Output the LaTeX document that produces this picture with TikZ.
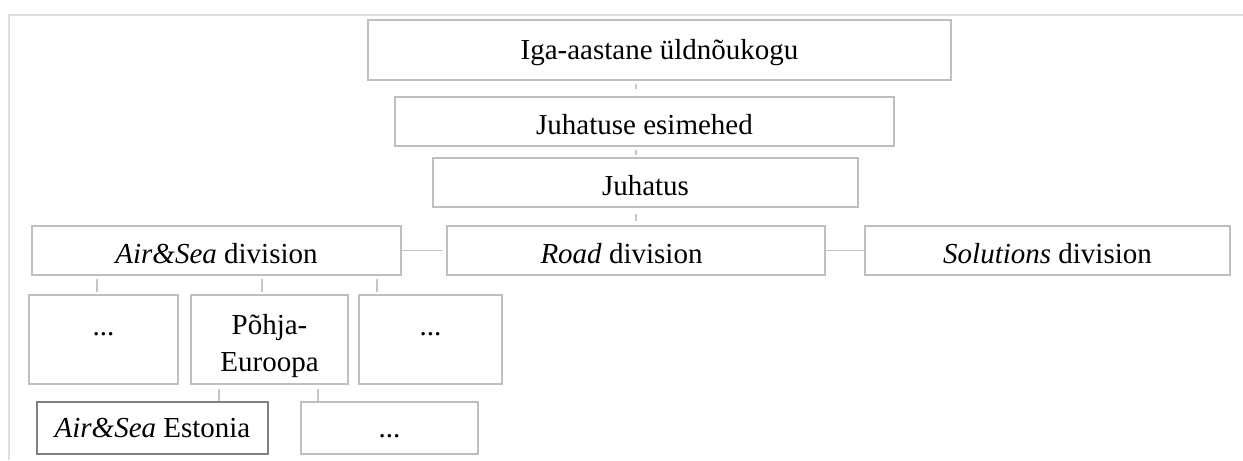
\documentclass[tikz,border=0pt]{standalone}
\usepackage{fontspec}
\setmainfont{Liberation Serif}
\usetikzlibrary{calc}
\tikzset{
  orglink/.style={draw=gray!45, line width=0.6pt},
  orgnode/.style={draw=gray!50, line width=0.85pt, inner sep=0pt,
    text height=0.44cm, text depth=0.08cm},
  orglow/.style={text height=0.55cm, text depth=0.03cm},
}

\begin{document}
\begin{tikzpicture}[
  font=\fontsize{16.5pt}{20.5pt}\selectfont,
  tall/.style={orgnode, align=center, minimum height=1.78cm,
    text height=0.44cm, text depth=0.62cm},
  mine/.style={orgnode, draw=gray, line width=1.2pt},
]
  \useasboundingbox (0,0) rectangle (24.86,-9.20);
  \draw[draw=gray!25, line width=0.6pt] (0.18,-9.20) |- (24.86,-0.30);

  % top of the chart
  \node[orgnode, minimum width=11.66cm, minimum height=1.20cm] (gm) at (13.19,-1.00) {Iga-aastane üldnõukogu};
  \node[orgnode, orglow, minimum width=9.98cm, minimum height=0.98cm] (chair) at (12.89,-2.43) {Juhatuse esimehed};
  \node[orgnode, orglow, minimum width=8.50cm, minimum height=0.98cm] (board) at (12.91,-3.65) {Juhatus};

  % divisions
  \node[orgnode, orglow, minimum width=7.38cm, minimum height=0.98cm] (as) at (4.33,-5.01) {\textit{Air\&Sea} division};
  \node[orgnode, orglow, minimum width=7.56cm, minimum height=0.98cm] (road) at (12.72,-5.01) {\textit{Road} division\kern1em};
  \node[orgnode, orglow, minimum width=7.30cm, minimum height=0.98cm] (sol) at (20.95,-5.01) {\textit{Solutions} division};

  % regions under Air&Sea (two-line box: baseline is the last line)
  \node[tall, minimum width=2.98cm] (regA) at (2.07,-6.79) {...};
  \node[tall, minimum width=3.14cm, text height=1.26cm, text depth=0pt] (north) at (5.39,-6.79) {Põhja-\\Euroopa};
  \node[tall, minimum width=2.86cm] (regB) at (8.61,-6.79) {...};

  % countries
  \node[mine, minimum width=4.62cm, minimum height=1.04cm] (est) at (3.05,-8.56) {\textit{Air\&Sea} Estonia};
  \node[orgnode, minimum width=3.54cm, minimum height=1.04cm] (cty) at (7.79,-8.56) {...};

  \draw[orglink, shorten <=0.06cm, shorten >=0.14cm] (gm.south -| road) -- (chair.north -| road);
  \draw[orglink, shorten <=0.06cm, shorten >=0.04cm] (chair.south -| road) -- (board.north -| road);
  \draw[orglink, shorten <=0.12cm, shorten >=0.08cm] (board.south -| road) -- (road.north);
  \draw[orglink, shorten >=0.06cm] (as) -- (road);
  \draw[orglink] (road) -- (sol);
  \foreach \x/\b in {1.94/regA, 5.24/north, 7.54/regB}
    \draw[orglink, shorten <=0.06cm, shorten >=0.04cm] (as.south -| \x,0) -- (\b.north -| \x,0);
  \draw[orglink, shorten <=0.08cm] (north.south -| 4.38,0) -- (est.north -| 4.38,0);
  \draw[orglink, shorten <=0.08cm] (north.south -| 6.36,0) -- (cty.north -| 6.36,0);
\end{tikzpicture}
\end{document}
